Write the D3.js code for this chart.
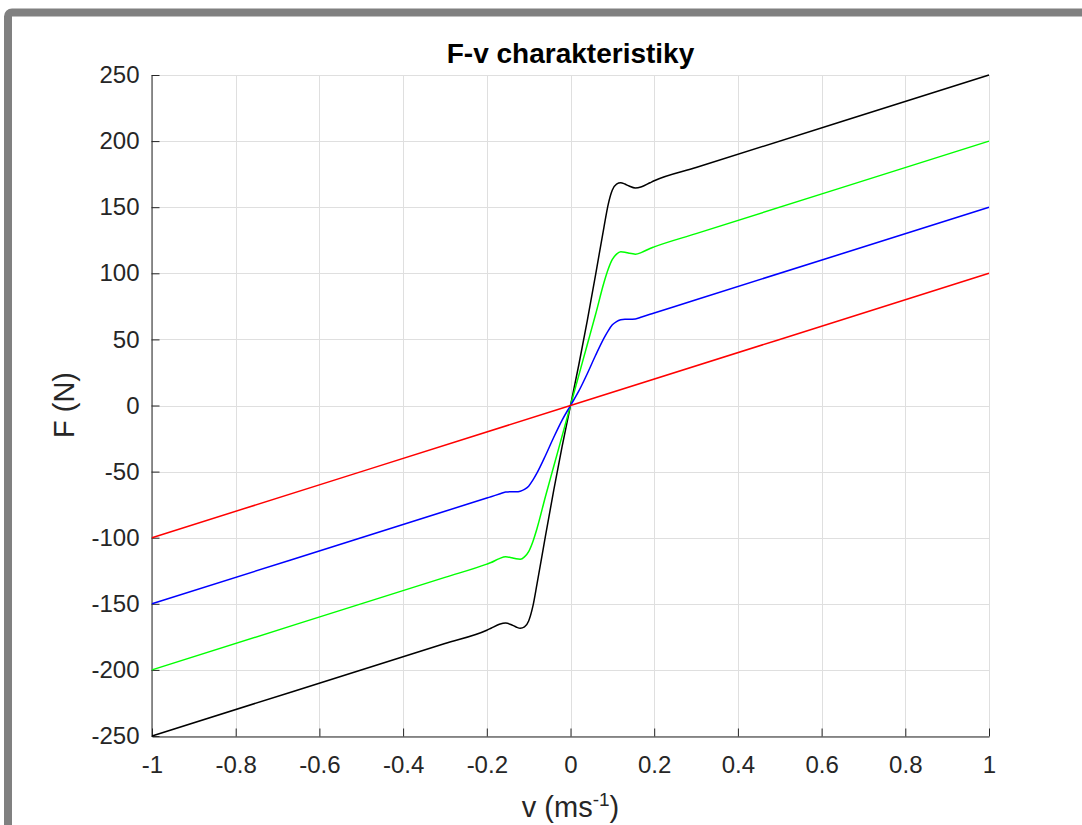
<!DOCTYPE html>
<html>
<head>
<meta charset="utf-8">
<script src="https://cdn.jsdelivr.net/npm/d3@7"></script>
<style>
  html, body { margin: 0; padding: 0; background: #fff; }
  svg { display: block; font-family: "Liberation Sans", Arial, Helvetica, sans-serif; }
</style>
</head>
<body>
<svg id="chart" width="1082" height="825"></svg>
<script>
// ---- data ----
const vCurve = [-1, -0.3, -0.2, -0.19, -0.17, -0.155, -0.14, -0.13, -0.12, -0.11, -0.1, -0.09, -0.08, -0.06, -0.04, -0.02,
                0, 0.02, 0.04, 0.06, 0.08, 0.09, 0.1, 0.11, 0.12, 0.13, 0.14, 0.155, 0.17, 0.19, 0.2, 0.3, 1];
const blackF = [-250, -180, -170, -168.5, -165.5, -164.5, -166, -167.5, -168.5, -167.5, -163, -152, -135, -99, -64, -31,
                0, 31, 64, 99, 135, 152, 163, 167.5, 168.5, 167.5, 166, 164.5, 165.5, 168.5, 170, 180, 250];
const greenF = [-200, -130, -120, -118.8, -115.8, -114.5, -115.2, -116, -116.3, -114.5, -110.5, -103, -93, -69, -46, -23,
                0, 23, 46, 69, 93, 103, 110.5, 114.5, 116.3, 116, 115.2, 114.5, 115.8, 118.8, 120, 130, 200];
const blueF  = [-150, -80, -70, -69, -67, -65.5, -65.2, -65.2, -64.8, -63.5, -61, -56.5, -51, -38, -24, -11,
                0, 11, 24, 38, 51, 56.5, 61, 63.5, 64.8, 65.2, 65.2, 65.5, 67, 69, 70, 80, 150];
const vRed = [-1, 0, 1];
const redF = [-100, 0, 100];

const xTicks = [-1, -0.8, -0.6, -0.4, -0.2, 0, 0.2, 0.4, 0.6, 0.8, 1];
const xTickLabels = ["-1", "-0.8", "-0.6", "-0.4", "-0.2", "0", "0.2", "0.4", "0.6", "0.8", "1"];
const yTicks = [-250, -200, -150, -100, -50, 0, 50, 100, 150, 200, 250];
const yTickLabels = ["-250", "-200", "-150", "-100", "-50", "0", "50", "100", "150", "200", "250"];

const titleText = "F-v charakteristiky";
const yLabelText = "F (N)";

// ---- layout ----
const svg = d3.select("#chart");
const plotL = 152, plotR = 989, plotT = 75, plotB = 736;
const x = d3.scaleLinear().domain([-1, 1]).range([plotL, plotR]);
const y = d3.scaleLinear().domain([-250, 250]).range([plotB, plotT]);
const axisColor = "#262626";

// figure frame (gray border)
svg.append("rect")
  .attr("x", 8).attr("y", 12.5).attr("width", 1300).attr("height", 1000)
  .attr("rx", 4)
  .attr("fill", "#fff").attr("stroke", "#808080").attr("stroke-width", 8);

// grid
const grid = svg.append("g").attr("stroke", "#dfdfdf").attr("stroke-width", 1);
grid.selectAll("line.gx").data(xTicks).join("line")
  .attr("x1", d => Math.round(x(d)) + 0.5).attr("x2", d => Math.round(x(d)) + 0.5)
  .attr("y1", plotT).attr("y2", plotB);
grid.selectAll("line.gy").data(yTicks).join("line")
  .attr("y1", d => Math.round(y(d)) + 0.5).attr("y2", d => Math.round(y(d)) + 0.5)
  .attr("x1", plotL).attr("x2", plotR);

// axes
const xAxis = d3.axisBottom(x).tickValues(xTicks)
  .tickFormat((d, i) => xTickLabels[i]).tickSizeInner(-8).tickSizeOuter(0).tickPadding(19);
const yAxis = d3.axisLeft(y).tickValues(yTicks)
  .tickFormat((d, i) => yTickLabels[i]).tickSizeInner(-8).tickSizeOuter(0).tickPadding(12);

const gx = svg.append("g").attr("transform", `translate(0,${plotB + 0.5})`).call(xAxis);
const gy = svg.append("g").attr("transform", `translate(${plotL - 0.5},0)`).call(yAxis);
[gx, gy].forEach(g => {
  g.select(".domain").attr("stroke", axisColor);
  g.selectAll(".tick line").attr("stroke", axisColor);
  g.selectAll(".tick text").attr("fill", axisColor)
    .style("font-size", "24px").style("font-family", '"Liberation Sans", Arial, sans-serif');
});

// lines
const lineGen = d3.line().x(d => x(d[0])).y(d => y(d[1])).curve(d3.curveMonotoneX);
const series = [
  { v: vCurve, f: blackF, color: "#000000" },
  { v: vCurve, f: greenF, color: "#00ff00" },
  { v: vCurve, f: blueF,  color: "#0000ff" },
  { v: vRed,   f: redF,   color: "#ff0000" }
];
series.forEach(s => {
  svg.append("path")
    .datum(s.v.map((v, i) => [v, s.f[i]]))
    .attr("d", lineGen)
    .attr("fill", "none").attr("stroke", s.color).attr("stroke-width", 1.5);
});

// title
svg.append("text")
  .attr("x", (plotL + plotR) / 2).attr("y", 63)
  .attr("text-anchor", "middle")
  .style("font-size", "28px").style("font-weight", "bold").attr("fill", "#000")
  .text(titleText);

// x label with superscript
const xl = svg.append("text")
  .attr("x", (plotL + plotR) / 2).attr("y", 817)
  .attr("text-anchor", "middle")
  .style("font-size", "29px").attr("fill", axisColor);
xl.append("tspan").text("v (ms");
xl.append("tspan").attr("dy", -11).style("font-size", "19px").text("-1");
xl.append("tspan").attr("dy", 11).text(")");

// y label
svg.append("text")
  .attr("transform", `translate(74,405) rotate(-90)`)
  .attr("text-anchor", "middle")
  .style("font-size", "29px").attr("fill", axisColor)
  .text(yLabelText);
</script>
</body>
</html>
